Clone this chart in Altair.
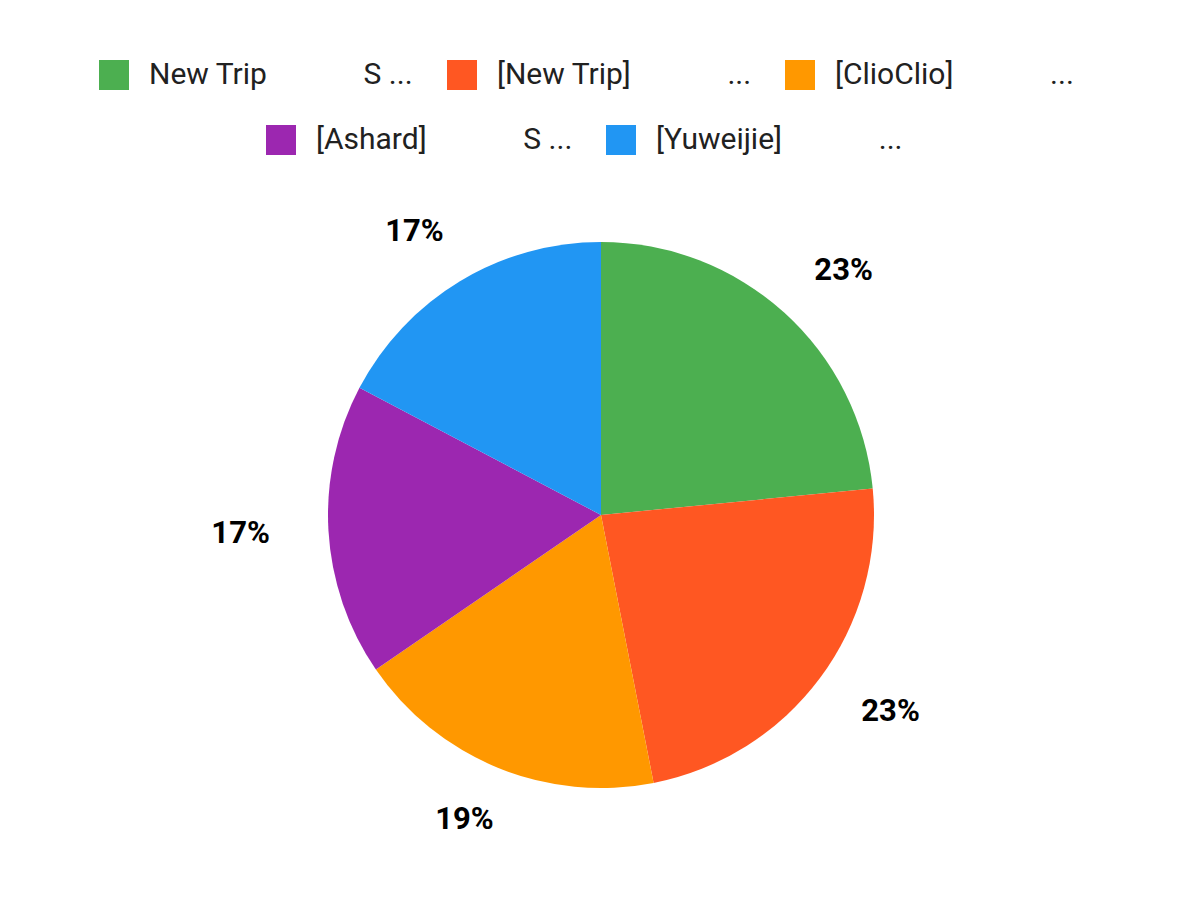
import altair as alt
import pandas as pd

NB = "\u00a0"
names = [
    "New Trip" + NB * 13 + "S ...",
    "[New Trip]" + NB * 13 + "...",
    "[ClioClio]" + NB * 13 + "...",
    "[Ashard]" + NB * 13 + "S ...",
    "[Yuweijie]" + NB * 13 + "...",
]
values = [19, 19, 15, 14, 14]
colors = ["#4CAF50", "#FF5722", "#FF9800", "#9C27B0", "#2196F3"]

df = pd.DataFrame({"cat": names, "value": values, "idx": list(range(len(names)))})

CX, CY = 593, 507

def legend(vals, lx, ly):
    return alt.Legend(
        orient="none", legendX=lx, legendY=ly, direction="horizontal",
        values=vals, title=None, symbolType="square", symbolSize=900,
        symbolStrokeWidth=0, labelFontSize=30, labelFont="Roboto",
        labelColor="#212121", labelOffset=20, columnPadding=33,
        labelLimit=0, padding=0,
    )

base = alt.Chart(df)

pie = base.mark_arc(outerRadius=273).encode(
    theta=alt.Theta("value:Q", stack=True),
    order=alt.Order("idx:Q", sort="ascending"),
    color=alt.Color("cat:N", scale=alt.Scale(domain=names, range=colors),
                    legend=legend(names[:3], 91, 52)),
    x=alt.value(CX), y=alt.value(CY),
)

hidden = base.transform_filter("false").mark_arc().encode(
    theta=alt.Theta("value:Q", stack=True),
    color=alt.Color("cat:N", scale=alt.Scale(domain=names, range=colors),
                    legend=legend(names[3:], 258, 117)),
    x=alt.value(CX), y=alt.value(CY),
)

# labels sit on an ellipse around the pie (horizontal 361px, vertical 330px)
labels = base.transform_joinaggregate(total="sum(value)").transform_window(
    cum="sum(value)", sort=[alt.SortField("idx", order="ascending")]
).transform_calculate(
    pct="format(datum.value / datum.total, '.0%')",
    mid="(datum.cum - datum.value / 2) / datum.total * 2 * PI",
).transform_calculate(
    ex="361 * sin(datum.mid)",
    ey="330 * cos(datum.mid)",
).transform_calculate(
    r="sqrt(datum.ex * datum.ex + datum.ey * datum.ey)",
    t="(atan2(datum.ex, datum.ey) + 2 * PI) % (2 * PI)",
).mark_text(fontSize=31, fontWeight="bold", font="Roboto",
            color="#000000", baseline="middle", align="center").encode(
    theta=alt.Theta("t:Q", scale=None),
    radius=alt.Radius("r:Q", scale=None),
    text="pct:N",
    x=alt.value(CX), y=alt.value(CY),
)

chart = alt.layer(pie, hidden, labels).resolve_scale(color="independent").properties(
    width=1184, height=884, padding=0, background="white",
    autosize=alt.AutoSizeParams(type="none")
).configure_view(strokeWidth=0, stroke="transparent")

chart.save("out.html", embed_options={"renderer": "svg", "actions": False})
